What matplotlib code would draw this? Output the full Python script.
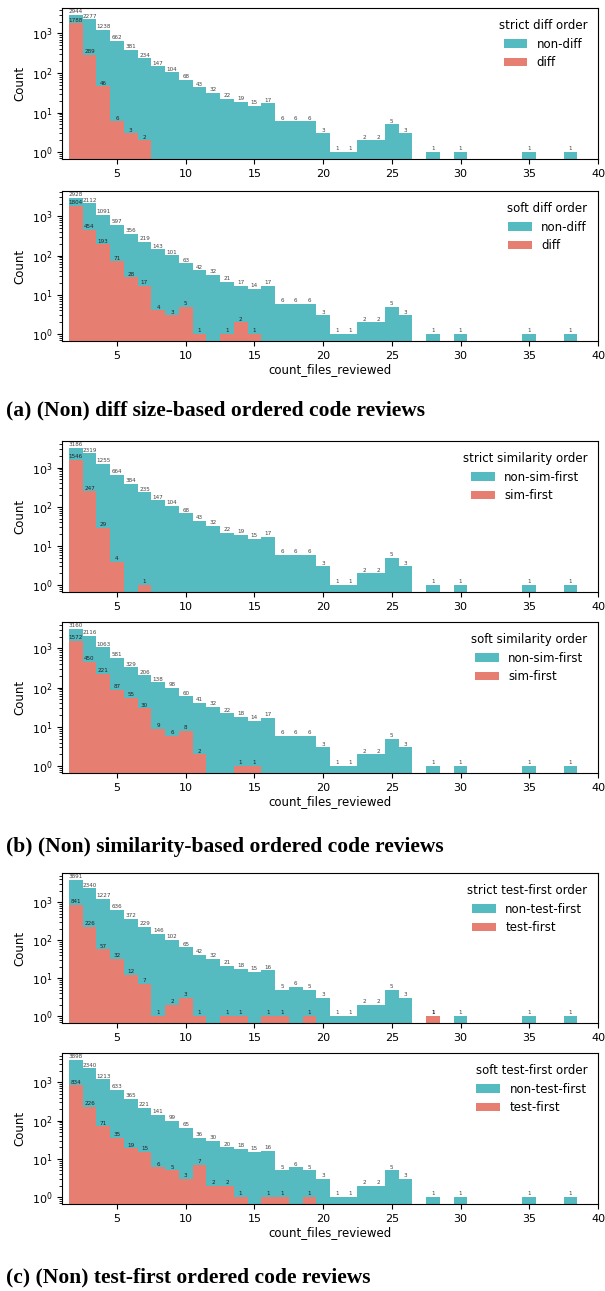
import numpy as np
import matplotlib
matplotlib.use("Agg")
import matplotlib.pyplot as plt

# files reviewed per review (bins centred on integers 2..38)
files_reviewed = np.arange(2, 39)

# (a) diff size-based ordering
strict_diff_non = [2944, 2277, 1238, 662, 381, 234, 147, 104, 68, 43, 32, 22, 19, 15, 17, 6, 6, 6, 3, 1, 1, 2, 2, 5, 3,
                   0, 1, 0, 1, 0, 0, 0, 0, 1, 0, 0, 1]
strict_diff_first = [1788, 289, 46, 6, 3, 2]
soft_diff_non = [2928, 2112, 1091, 597, 356, 219, 143, 101, 63, 42, 32, 21, 17, 14, 17, 6, 6, 6, 3, 1, 1, 2, 2, 5, 3,
                 0, 1, 0, 1, 0, 0, 0, 0, 1, 0, 0, 1]
soft_diff_first = [1804, 454, 193, 71, 28, 17, 4, 3, 5, 1, 0, 1, 2, 1]

# (b) similarity-based ordering
strict_sim_non = [3186, 2319, 1255, 664, 384, 235, 147, 104, 68, 43, 32, 22, 19, 15, 17, 6, 6, 6, 3, 1, 1, 2, 2, 5, 3,
                  0, 1, 0, 1, 0, 0, 0, 0, 1, 0, 0, 1]
strict_sim_first = [1546, 247, 29, 4, 0, 1]
soft_sim_non = [3160, 2116, 1063, 581, 329, 206, 138, 98, 60, 41, 32, 22, 18, 14, 17, 6, 6, 6, 3, 1, 1, 2, 2, 5, 3,
                0, 1, 0, 1, 0, 0, 0, 0, 1, 0, 0, 1]
soft_sim_first = [1572, 450, 221, 87, 55, 30, 9, 6, 8, 2, 0, 0, 1, 1]

# (c) test-first ordering
strict_test_non = [3891, 2340, 1227, 636, 372, 229, 146, 102, 65, 42, 32, 21, 18, 15, 16, 5, 6, 5, 3, 1, 1, 2, 2, 5, 3,
                   0, 1, 0, 1, 0, 0, 0, 0, 1, 0, 0, 1]
strict_test_first = [841, 226, 57, 32, 12, 7, 1, 2, 3, 1, 0, 1, 1, 0, 1, 1, 0, 1, 0, 0, 0, 0, 0, 0, 0, 0, 1]
soft_test_non = [3898, 2340, 1213, 633, 365, 221, 141, 99, 65, 36, 30, 20, 18, 15, 16, 5, 6, 5, 3, 1, 1, 2, 2, 5, 3,
                 0, 1, 0, 1, 0, 0, 0, 0, 1, 0, 0, 1]
soft_test_first = [834, 226, 71, 35, 19, 15, 6, 5, 3, 7, 2, 2, 1, 0, 1, 1, 0, 1]

panels = [
    (strict_diff_non, strict_diff_first, "strict diff order", "non-diff", "diff"),
    (soft_diff_non, soft_diff_first, "soft diff order", "non-diff", "diff"),
    (strict_sim_non, strict_sim_first, "strict similarity order", "non-sim-first", "sim-first"),
    (soft_sim_non, soft_sim_first, "soft similarity order", "non-sim-first", "sim-first"),
    (strict_test_non, strict_test_first, "strict test-first order", "non-test-first", "test-first"),
    (soft_test_non, soft_test_first, "soft test-first order", "non-test-first", "test-first"),
]

captions = [
    "(a) (Non) diff size-based ordered code reviews",
    "(b) (Non) similarity-based ordered code reviews",
    "(c) (Non) test-first ordered code reviews",
]

TEAL = "#55bbc1"
SALMON = "#e77e72"

W, H = 605, 1291
fig = plt.figure(figsize=(W / 100, H / 100), dpi=100)

# axes boxes in pixels (top, bottom)
boxes = [(8, 159), (191, 341), (441, 592), (622, 773), (873, 1023), (1053, 1204)]
left_px, right_px = 62, 598


def pad(values, n):
    out = np.zeros(n, dtype=int)
    out[:len(values)] = values
    return out


def draw_hist(ax, other, first, title, lab_other, lab_first):
    n = len(files_reviewed)
    other = pad(other, n)
    first = pad(first, n)

    m = other > 0
    bars_o = ax.bar(files_reviewed[m], other[m], width=1.0, color=TEAL, label=lab_other, linewidth=0)
    m2 = first > 0
    bars_f = ax.bar(files_reviewed[m2], first[m2], width=1.0, color=SALMON, label=lab_first, linewidth=0)

    ax.bar_label(bars_o, labels=[str(v) for v in other[m]], fontsize=4.1, padding=0.5, color="#444444")
    ax.bar_label(bars_f, labels=[str(v) for v in first[m2]], fontsize=4.1, padding=0.5, color="#222222")

    ax.set_yscale("log")
    top = np.log10(max(other.max(), first.max()))
    ax.set_ylim(10 ** (-0.05 * top), 10 ** (1.05 * top))
    ax.set_xlim(1, 40)
    ax.set_xticks([5, 10, 15, 20, 25, 30, 35, 40])
    ax.tick_params(labelsize=8)
    ax.set_ylabel("Count", fontsize=8.5)
    ax.legend(title=title, frameon=False, loc="upper right", fontsize=8.5, title_fontsize=8.5)


for i, ((top_px, bot_px), panel) in enumerate(zip(boxes, panels)):
    ax = fig.add_axes([left_px / W, 1 - bot_px / H, (right_px - left_px) / W, (bot_px - top_px) / H])
    draw_hist(ax, *panel)
    if i % 2 == 1:
        ax.set_xlabel("count_files_reviewed", fontsize=8.5, labelpad=2)

for y_px, text in zip([410, 847, 1277], captions):
    fig.text(6 / W, 1 - y_px / H, text, fontsize=15.5, fontweight="bold",
             family="Liberation Serif", va="center", ha="left")

fig.savefig("out.png", dpi=100)
